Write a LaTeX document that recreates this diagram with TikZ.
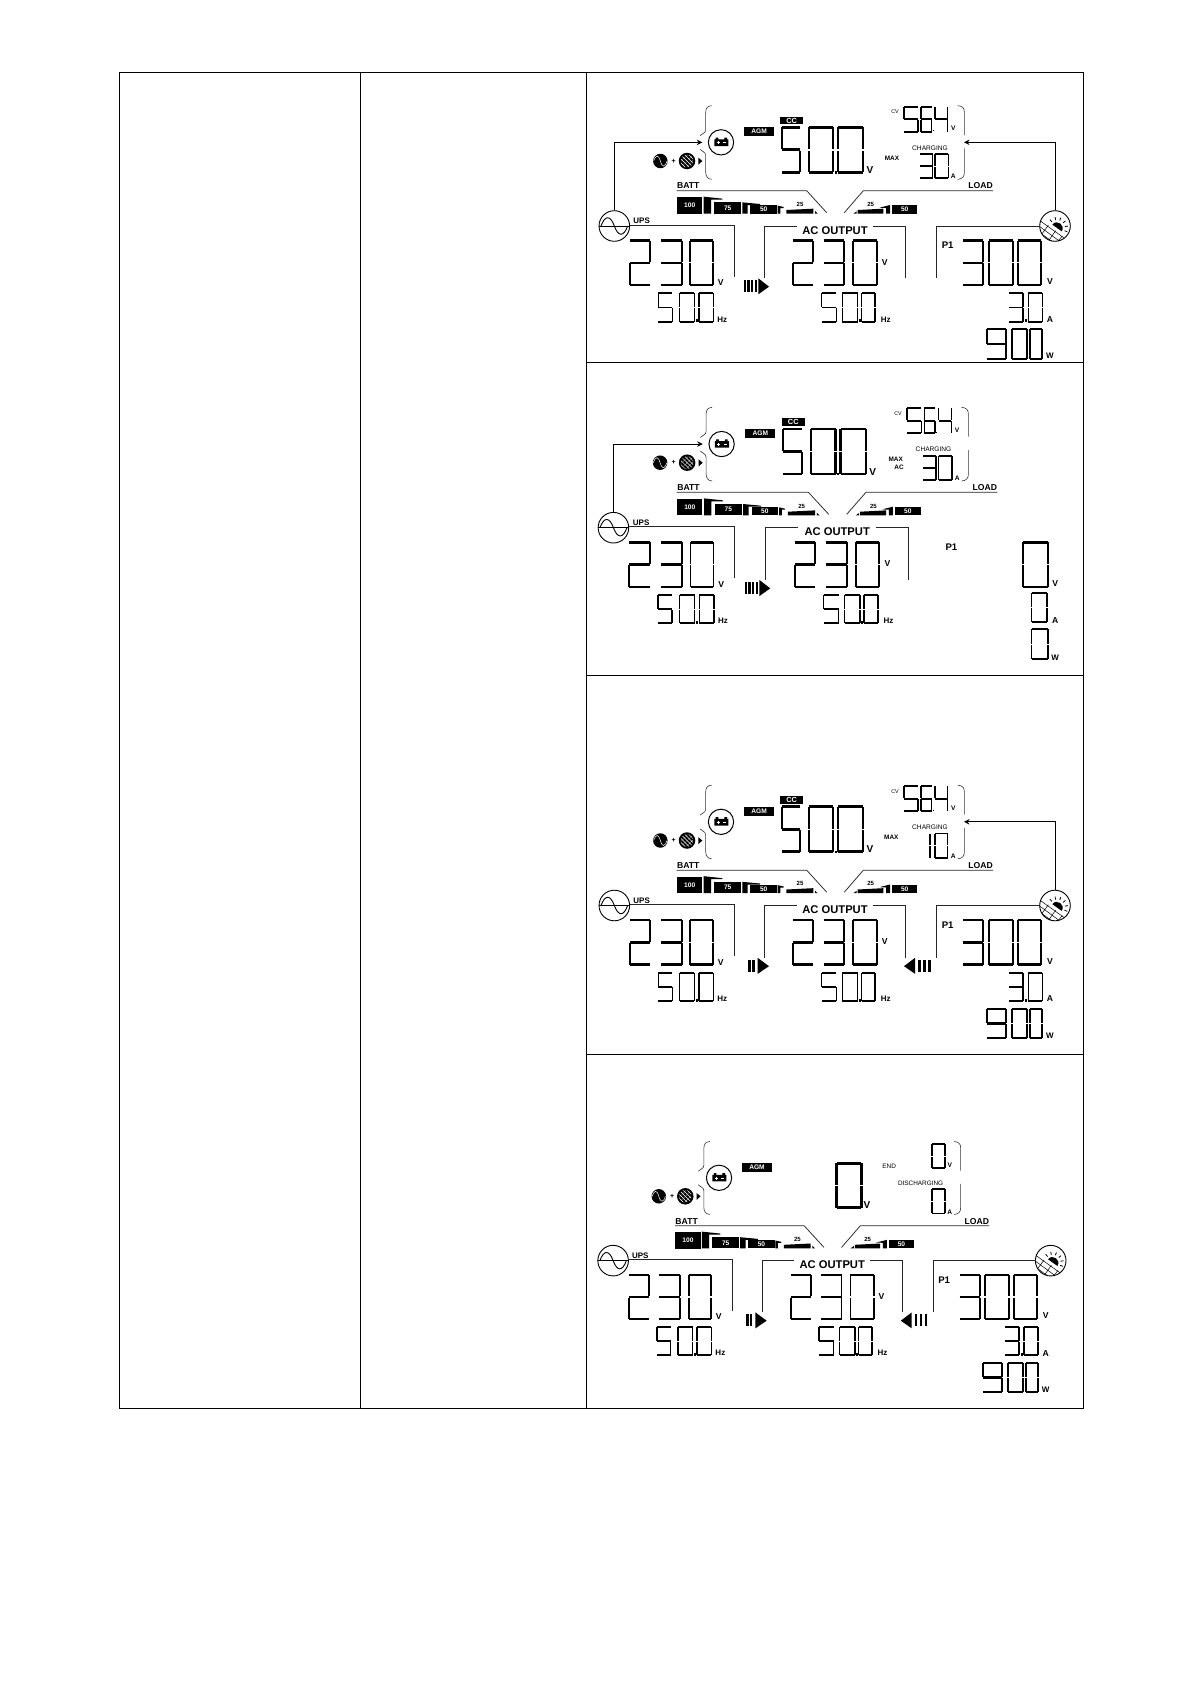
\documentclass[tikz,border=0pt]{standalone}
\usepackage{fontspec}
\setmainfont{Liberation Sans}
\usetikzlibrary{arrows.meta,positioning}

\newcommand{\fsz}[1]{\fontsize{#1}{#1}\selectfont}
% seven segment glyphs
\newcommand{\segA}{\draw[barh] (0,0) -- (1,0);}
\newcommand{\segB}{\draw[barv] (1,0) -- (1,.485);}
\newcommand{\segC}{\draw[barv] (1,.515) -- (1,1);}
\newcommand{\segD}{\draw[barh] (0,1) -- (1,1);}
\newcommand{\segE}{\draw[barv] (0,.515) -- (0,1);}
\newcommand{\segF}{\draw[barv] (0,0) -- (0,.485);}
\newcommand{\segG}{\draw[barh] (0,.5) -- (1,.5);}
\expandafter\def\csname dig0\endcsname{A,B,C,D,E,F}
\expandafter\def\csname dig1\endcsname{B,C}
\expandafter\def\csname dig2\endcsname{A,B,G,E,D}
\expandafter\def\csname dig3\endcsname{A,B,G,C,D}
\expandafter\def\csname dig4\endcsname{F,G,B,C}
\expandafter\def\csname dig5\endcsname{A,F,G,C,D}
\expandafter\def\csname dig6\endcsname{A,F,G,E,C,D}
\expandafter\def\csname dig9\endcsname{A,B,C,D,F,G}
% [bar width]{top}{height}{digit/left/width,...}
\newcommand{\lcdnum}[4][2.4]{%
  \def\barw{#1}%
  \foreach \d/\dx/\dw in {#4} {
    \begin{scope}[shift={(\dx,#2)}, xscale=\dw, yscale=#3]
      \expandafter\let\expandafter\seglist\csname dig\d\endcsname
      \foreach \s in \seglist {\csname seg\s\endcsname}
    \end{scope}
  }}

\newcommand{\lcdbrace}{%
  \draw[thin1] (380,47) .. controls (366,48) and (362,55) .. (362,70) -- (362,120)
     .. controls (362,130) and (350,130) .. (345,137);
  \draw[thin1] (345,178) .. controls (350,184) and (362,186) .. (362,196) -- (362,245)
     .. controls (362,260) and (368,267) .. (380,268);
  \draw[thin1] (1118,47) .. controls (1132,48) and (1138,54) .. (1138,66) -- (1138,135);
  \draw[thin1] (1138,175) -- (1138,248) .. controls (1138,260) and (1132,267) .. (1118,268);
  \node[circle, draw, line width=1pt, minimum size=25.3pt, inner sep=0] (batt) at (408,157) {};
  \fill (388,148) rectangle (430,168) (392,143) rectangle (400,148) (418,143) rectangle (426,148);
  \draw[white, line width=.7pt] (395,158) -- (404,158) (399.5,153.5) -- (399.5,162.5) (415,158) -- (424,158);
  \node[circle, fill=black, minimum size=14.5pt, inner sep=0] (acsm) at (226,213) {};
  \draw[white, line width=.5pt] (206,213) .. controls (213,193) and (220,193) .. (226,213)
     .. controls (232,233) and (239,233) .. (246,213);
  \node[lbl, font=\bfseries\fsz{7}] (plus) at (266,213) {+};
  \node[circle, fill=black, minimum size=16.5pt, inner sep=0] (pvsm) at (306,213) {};
  \begin{scope}
    \clip (306,213) circle [radius=19];
    \foreach \o in {-24,-12,0,12,24} {\draw[white, line width=.5pt] (286+\o,193) -- (326+\o,233);}
    \foreach \o in {-16,0,16} {\draw[white, line width=.5pt, densely dotted] (326+\o,193) -- (286+\o,233);}
  \end{scope}
  \fill (340,203) -- (352,213) -- (340,224) -- cycle;
  \node[tag, minimum width=30pt, minimum height=9pt] (agm) at (522.5,124.5) {AGM};
}

\newcommand{\lcdbars}{%
  \node[lbl] (batlbl) at (310,288) {BATT};
  \node[lbl] (loadlbl) at (1187,288) {LOAD};
  \draw[rule] (275,302) -- (665,302) -- (725,368);
  \draw[rule] (1224,302) -- (835,302) -- (778,368);
  \node[tag, minimum width=25.3pt, minimum height=16.3pt] (b100) at (314,346.5) {100};
  \fill (356,320) -- (412,326) -- (412,329) -- (378,329) -- (378,371) -- (356,371) -- cycle;
  \node[tag, minimum width=26.6pt, minimum height=11.3pt] (b75) at (428,354) {75};
  \fill (472,337) -- (525,342) -- (525,345) -- (488,345) -- (488,371) -- (472,371) -- cycle;
  \node[tag, minimum width=26.6pt, minimum height=8.6pt] (b50) at (536,358) {50};
  \fill (578,347) -- (596,351) -- (596,354) -- (586,354) -- (586,371) -- (578,371) -- cycle;
  \node[lbl, font=\bfseries\fsz{6}] (b25) at (645,343) {25};
  \fill (604,360) -- (685,356) -- (685,371) -- (604,371) -- cycle;
  \fill (690,371) -- (690,363) -- (698,371) -- cycle;
  \node[lbl, font=\bfseries\fsz{6}] (l25) at (857,343) {25};
  \fill (805,371) -- (815,364) -- (815,371) -- cycle;
  \fill (818,360) -- (895,356) -- (895,371) -- (818,371) -- cycle;
  \fill (883,353) -- (915,345) -- (915,371) -- (903,371) -- (903,354) -- cycle;
  \node[tag, minimum width=25.6pt, minimum height=8.6pt] (l50) at (959,358) {50};
}

\newcommand{\lcdgrid}{%
  \node[circle, draw, line width=.9pt, minimum size=30.6pt, inner sep=0] (ups) at (88,408) {};
  \draw[line width=.9pt] (42,408) -- (134,408);
  \draw[line width=.9pt] (48,408) .. controls (60,375) and (76,375) .. (88,408)
     .. controls (100,441) and (116,441) .. (128,408);
  \node[lbl, font=\bfseries\fsz{8}] (upslbl) at (170,393) {UPS};
  \draw[rule] (134,405) -- (447,405) -- (447,560);
  \lcdnum{452}{133}{2/135/60,3/228/62,0/316/68}
  \node[lbl] (uv) at (407,578) {V};
  \lcdnum[1.9]{610}{85}{5/220/42,0/284/44,0/342/43}
  \fill (333,688) rectangle (339,696);
  \node[lbl, font=\bfseries\fsz{8}] (uhz) at (412,688) {Hz};
  \draw[rule] (538,565) -- (538,408) -- (635,408);
  \draw[rule] (865,408) -- (962,408) -- (962,565);
  \node[lbl, font=\bfseries\fsz{11.2}] (aclbl) at (750,421) {AC OUTPUT};
  \lcdnum{452}{133}{2/625/60,3/716/62,0/805/70}
  \node[lbl] (av) at (899,517) {V};
  \lcdnum[1.9]{610}{85}{5/710/44,0/772/46,0/830/40}
  \fill (821,688) rectangle (827,696);
  \node[lbl, font=\bfseries\fsz{8}] (ahz) at (902,688) {Hz};
}

\newcommand{\lcdcharge}{%
  \node[tag, font=\bfseries\fsz{7.4}, minimum width=23.3pt, minimum height=7.6pt] (cc) at (620,91.5) {CC};
  \lcdnum[2.8]{112}{135}{5/590/56,0/673/72,0/760/75}
  \fill (750,243) rectangle (756,251);
  \node[lbl, font=\bfseries\fsz{10}] (bv) at (855,240) {V};
  \node[lbl, font=\fsz{5.4}] (cv) at (930,66) {CV};
  \lcdnum[1.9]{50}{75}{5/957/42,6/1008/32,4/1050/38}
  \fill (1043,120) rectangle (1046,124);
  \node[lbl, font=\bfseries\fsz{6.6}] (cvv) at (1105,116) {V};
  \node[lbl, font=\fsz{6.6}] (chg) at (1035,174) {CHARGING};
  \node[lbl, font=\bfseries\fsz{6.6}] (ca) at (1105,260) {A};
}

\newcommand{\lcdpv}{%
  \node[circle, draw, line width=.9pt, minimum size=30.6pt, inner sep=0] (pv) at (1410,408) {};
  \begin{scope}[line width=.5pt]
    \clip (1410,408) circle [radius=46];
    \fill[shift={(1410,408)}] (-8,-4) .. controls (5,-22) and (33,-2) .. (20,16) -- cycle;
    \foreach \a in {-130,-100,-70,-40,-10,20} {
      \draw[shift={(1410,408)}, line width=.8pt] ({6+24*cos(\a)},{6+24*sin(\a)}) -- ({6+33*cos(\a)},{6+33*sin(\a)});
    }
    \draw[shift={(1410,408)}] (-48,-18) -- (30,38) (-48,0) -- (14,46) (-48,18) -- (-4,50)
       (-20,-2) -- (-44,30) (2,14) -- (-22,48) (22,30) -- (4,52);
  \end{scope}
  \draw[rule] (1055,565) -- (1055,408) -- (1365,408);
}
\newcommand{\lcdpvread}{%
  \lcdnum{452}{133}{3/1135/60,0/1212/72,0/1298/70}
  \lcdnum[1.9]{610}{85}{3/1272/42,0/1330/42}
  \fill (1320,688) rectangle (1326,696);
  \lcdnum[2.1]{718}{88}{9/1205/58,0/1280/46,0/1335/37}
}
\newcommand{\lcdpvunits}{%
  \node[lbl, font=\bfseries\fsz{9.6}] (p1) at (1088,466) {P1};
  \node[lbl] (pvv) at (1395,575) {V};
  \node[lbl] (pva) at (1395,688) {A};
  \node[lbl, font=\bfseries\fsz{8}] (pvw) at (1395,798) {W};
}
\newcommand{\lcdmove}[2]{% bars, tip side
  \foreach \bx in {#1} {\fill (\bx,570) rectangle ++(7,37);}
  \fill #2;
}

\begin{document}
\begin{tikzpicture}[
    x=1pt, y=-1pt,
    grid/.style={line width=1pt},
    rule/.style={line width=.75pt, black!85},
    thin1/.style={line width=.6pt, black!80},
    barh/.style={line width=\barw pt},
    barv/.style={line width=.8*\barw pt},
    lbl/.style={inner sep=0, font=\bfseries\fsz{8.6}},
    tag/.style={inner sep=0, fill=black, text=white, font=\bfseries\fsz{6.6}},
    flowline/.style={-{Stealth[length=5.5pt,width=5.5pt]}, line width=.85pt},
    pane/.style n args={4}{shift={(#1pt,#2pt)}, x=#3*.33333pt, y=-#4*.33333pt},
    panea/.style={pane={585}{-90}{1}{1}, name prefix=a-},
    paneb/.style={pane={583.7}{-391.7}{1.014}{1}, name prefix=b-},
    panec/.style={pane={585}{-769.5}{1}{1}, name prefix=c-},
    paned/.style={pane={584}{-1126}{.993}{.99}, name prefix=d-}
  ]
  \useasboundingbox (0,0) rectangle (1191,1684);

  \draw[grid] (119,72) rectangle (1083,1408);
  \draw[grid] (360,72) -- (360,1408);
  \draw[grid] (586,72) -- (586,1408);
  \draw[grid] (586,362.5) -- (1083,362.5);
  \draw[grid] (586,675.5) -- (1083,675.5);
  \draw[grid] (586,1054) -- (1083,1054);

  \begin{scope}[panea]
    \lcdbrace \lcdbars \lcdgrid \lcdcharge \lcdpv \lcdpvread \lcdpvunits
    \node[lbl, font=\bfseries\fsz{6.4}] (maxlbl) at (921,204) {MAX};
    \lcdnum[1.9]{192}{73}{3/1005/38,0/1050/40}
    \coordinate (chgl) at (352,157);
    \coordinate (chgr) at (1137,157);
    \draw[flowline] (ups.north) |- (chgl);
    \draw[flowline] (pv.north) |- (chgr);
    \lcdmove{476,487,498,509}{(520,565) -- (552,590) -- (520,613) -- cycle}
  \end{scope}

  \begin{scope}[paneb]
    \lcdbrace \lcdbars \lcdgrid \lcdcharge \lcdpvunits
    \node[lbl, font=\bfseries\fsz{6.4}] (maxlbl) at (923,204) {MAX};
    \node[lbl, font=\bfseries\fsz{6.4}] (aclbl2) at (933,227) {AC};
    \lcdnum[1.9]{192}{73}{3/1005/38,0/1050/40}
    \lcdnum{452}{133}{0/1301/74}
    \lcdnum[1.9]{605}{85}{0/1325/45}
    \lcdnum[1.9]{713}{90}{0/1325/48}
    \coordinate (chgl) at (352,157);
    \draw[flowline] (ups.north) |- (chgl);
    \lcdmove{476,487,498,509}{(520,565) -- (552,590) -- (520,613) -- cycle}
  \end{scope}

  \begin{scope}[panec]
    \lcdbrace \lcdbars \lcdgrid \lcdcharge \lcdpv \lcdpvread \lcdpvunits
    \node[lbl, font=\bfseries\fsz{6.4}] (maxlbl) at (919,204) {MAX};
    \lcdnum[1.9]{192}{73}{1/995/40,0/1050/38}
    \coordinate (chgr) at (1137,157);
    \draw[flowline] (pv.north) |- (chgr);
    \lcdmove{490,502}{(518,565) -- (552,590) -- (518,613) -- cycle}
    \lcdmove{1000,1015,1030}{(990,565) -- (957,590) -- (990,613) -- cycle}
  \end{scope}

  \begin{scope}[paned]
    \lcdbrace \lcdbars \lcdgrid \lcdpv \lcdpvread \lcdpvunits
    \lcdnum[2.8]{113}{135}{0/763/75}
    \node[lbl, font=\bfseries\fsz{10}] (bv) at (855,240) {V};
    \node[lbl, font=\fsz{6.4}] (endlbl) at (922,123) {END};
    \node[lbl, font=\fsz{6.4}] (dchg) at (1017,174) {DISCHARGING};
    \lcdnum[1.9]{55}{73}{0/1052/38}
    \node[lbl, font=\bfseries\fsz{6.6}] (cvv) at (1105,118) {V};
    \lcdnum[1.9]{192}{73}{0/1052/38}
    \node[lbl, font=\bfseries\fsz{6.6}] (ca) at (1105,260) {A};
    \lcdmove{490,502}{(518,565) -- (552,590) -- (518,613) -- cycle}
    \lcdmove{1000,1015,1030}{(990,565) -- (957,590) -- (990,613) -- cycle}
  \end{scope}
\end{tikzpicture}
\end{document}
